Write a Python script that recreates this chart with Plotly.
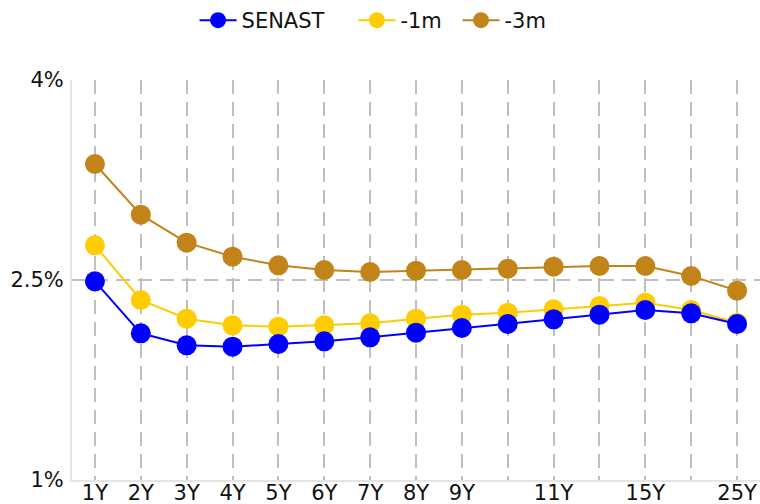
import plotly.graph_objects as go

categories = ["1Y", "2Y", "3Y", "4Y", "5Y", "6Y", "7Y", "8Y", "9Y", "10Y", "11Y", "12Y", "15Y", "20Y", "25Y"]
tick_labels = ["1Y", "2Y", "3Y", "4Y", "5Y", "6Y", "7Y", "8Y", "9Y", "", "11Y", "", "15Y", "", "25Y"]
senast = [2.49, 2.10, 2.01, 2.00, 2.02, 2.04, 2.07, 2.105, 2.14, 2.17, 2.205, 2.24, 2.275, 2.25, 2.17]
m1 = [2.76, 2.35, 2.21, 2.16, 2.15, 2.16, 2.175, 2.21, 2.24, 2.255, 2.28, 2.305, 2.33, 2.275, 2.18]
m3 = [3.37, 2.99, 2.78, 2.675, 2.61, 2.575, 2.56, 2.57, 2.575, 2.585, 2.60, 2.605, 2.605, 2.53, 2.42]
y_ticks = [1, 2.5, 4]
y_tick_labels = ["1%", "2.5%", "4%"]

series = [
    ("SENAST", senast, "#0000ff", "legend"),
    ("-1m", m1, "#ffcc00", "legend2"),
    ("-3m", m3, "#c28418", "legend3"),
]
legend_x = {"legend": 0.256, "legend2": 0.465, "legend3": 0.602}

fig = go.Figure()
# draw -3m, -1m, then SENAST on top
for name, vals, color, leg in reversed(series):
    fig.add_trace(go.Scatter(
        x=categories, y=vals, name=name, mode="lines+markers",
        line=dict(color=color, width=2),
        marker=dict(color=color, size=20),
        legend=leg,
    ))

axis_common = dict(
    showgrid=True, gridcolor="#bfbfbf", gridwidth=2, griddash="14px,8px",
    showline=True, linecolor="#e4e4e4", linewidth=2, ticks="",
    zeroline=False, automargin=False, tickfont=dict(size=21),
)

def leg(x):
    return dict(orientation="h", xref="container", yref="container",
                x=x, xanchor="left", y=1.0, yanchor="top",
                font=dict(size=21), itemwidth=37, bgcolor="rgba(0,0,0,0)")

fig.update_layout(
    width=760, height=504,
    margin=dict(l=72, r=0, t=80, b=24),
    paper_bgcolor="white", plot_bgcolor="white",
    font=dict(family="DejaVu Sans", size=21, color="#111"),
    showlegend=True,
    legend=leg(legend_x["legend"]),
    legend2=leg(legend_x["legend2"]),
    legend3=leg(legend_x["legend3"]),
    xaxis=dict(type="category", categoryorder="array", categoryarray=categories,
               range=[-0.5, 14.5], tickmode="array", tickvals=categories,
               ticktext=tick_labels, ticklabelstandoff=-7, **axis_common),
    yaxis=dict(range=[1, 4], tickmode="array", tickvals=y_ticks,
               ticktext=y_tick_labels, ticklabelstandoff=2, **axis_common),
)

fig.write_html("out.html", config={"displayModeBar": False},
               post_script="document.body.style.margin='0';document.body.style.overflow='hidden';")
